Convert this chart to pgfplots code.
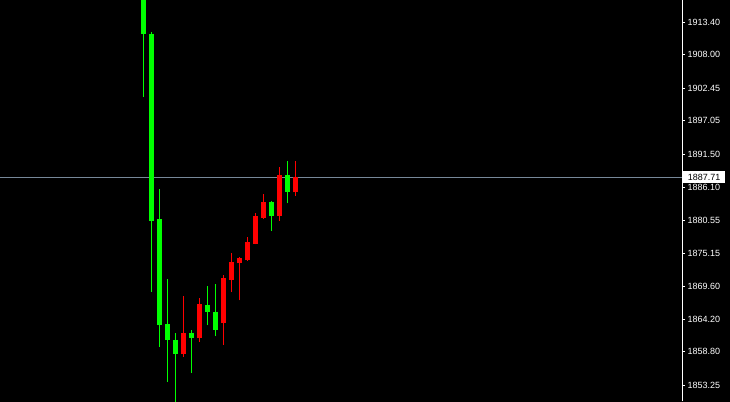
\documentclass[border=0pt]{standalone}
\usepackage{pgfplots}
\pgfplotsset{compat=1.18}
\usepackage{fontspec}
\setmainfont{Liberation Sans}
\definecolor{cgreen}{RGB}{0,255,0}
\definecolor{cred}{RGB}{255,0,0}
\definecolor{bidline}{RGB}{119,136,153}
\begin{document}
\begin{tikzpicture}
\fill[black] (0,0) rectangle (730bp,401bp);
\begin{axis}[
  at={(0,0)}, anchor=south west,
  scale only axis, width=682bp, height=401bp,
  xmin=-16.94, xmax=68.31, ymin=1850.55, ymax=1917.0,
  axis x line=none, axis y line*=right,
  axis line style={white, line width=1bp},
  xtick=\empty,
  ytick={1853.25,1858.80,1864.20,1869.60,1875.15,1880.55,1886.10,1891.50,1897.05,1902.45,1908.00,1913.40},
  yticklabels={1853.25,1858.80,1864.20,1869.60,1875.15,1880.55,1886.10,1891.50,1897.05,1902.45,1908.00,1913.40},
  ytick align=outside, major tick length=3bp,
  tick style={white, line width=0.8bp},
  yticklabel style={white, font=\fontsize{9bp}{10bp}\selectfont, inner sep=0pt, xshift=2.5bp},
  clip=true,
]
% bid line
\addplot[bidline, line width=1.2bp] coordinates {(-16.94,1887.71) (68.31,1887.71)};
% candles: wick (low-high), body (open-close)
\addplot[cgreen, line width=1.2bp] coordinates {(1,1900.97) (1,1920.5)};
\addplot[cgreen, line width=5bp] coordinates {(1,1919.5) (1,1911.41)};
\addplot[cgreen, line width=1.2bp] coordinates {(2,1868.66) (2,1911.70)};
\addplot[cgreen, line width=5bp] coordinates {(2,1911.53) (2,1880.43)};
\addplot[cgreen, line width=1.2bp] coordinates {(3,1859.66) (3,1885.68)};
\addplot[cgreen, line width=5bp] coordinates {(3,1880.71) (3,1863.26)};
\addplot[cgreen, line width=1.2bp] coordinates {(4,1853.75) (4,1870.93)};
\addplot[cgreen, line width=5bp] coordinates {(4,1863.31) (4,1860.71)};
\addplot[cgreen, line width=1.2bp] coordinates {(5,1850.30) (5,1861.82)};
\addplot[cgreen, line width=5bp] coordinates {(5,1860.82) (5,1858.39)};
\addplot[cred, line width=1.2bp] coordinates {(6,1857.89) (6,1867.95)};
\addplot[cred, line width=5bp] coordinates {(6,1858.39) (6,1861.98)};
\addplot[cgreen, line width=1.2bp] coordinates {(7,1855.24) (7,1862.32)};
\addplot[cgreen, line width=5bp] coordinates {(7,1861.98) (7,1861.04)};
\addplot[cred, line width=1.2bp] coordinates {(8,1860.38) (8,1867.62)};
\addplot[cred, line width=5bp] coordinates {(8,1861.04) (8,1866.67)};
\addplot[cgreen, line width=1.2bp] coordinates {(9,1863.20) (9,1869.77)};
\addplot[cgreen, line width=5bp] coordinates {(9,1866.62) (9,1865.35)};
\addplot[cgreen, line width=1.2bp] coordinates {(10,1861.37) (10,1869.94)};
\addplot[cgreen, line width=5bp] coordinates {(10,1865.46) (10,1862.36)};
\addplot[cred, line width=1.2bp] coordinates {(11,1859.99) (11,1871.43)};
\addplot[cred, line width=5bp] coordinates {(11,1863.52) (11,1870.98)};
\addplot[cred, line width=1.2bp] coordinates {(12,1868.66) (12,1875.12)};
\addplot[cred, line width=5bp] coordinates {(12,1870.76) (12,1873.63)};
\addplot[cred, line width=1.2bp] coordinates {(13,1867.29) (13,1874.46)};
\addplot[cred, line width=5bp] coordinates {(13,1873.47) (13,1874.30)};
\addplot[cred, line width=1.2bp] coordinates {(14,1873.91) (14,1877.89)};
\addplot[cred, line width=5bp] coordinates {(14,1874.08) (14,1876.95)};
\addplot[cred, line width=1.2bp] coordinates {(15,1876.57) (15,1881.75)};
\addplot[cred, line width=5bp] coordinates {(15,1876.68) (15,1881.25)};
\addplot[cred, line width=1.2bp] coordinates {(16,1880.76) (16,1884.90)};
\addplot[cred, line width=5bp] coordinates {(16,1880.92) (16,1883.57)};
\addplot[cgreen, line width=1.2bp] coordinates {(17,1878.77) (17,1883.74)};
\addplot[cgreen, line width=5bp] coordinates {(17,1883.57) (17,1881.37)};
\addplot[cred, line width=1.2bp] coordinates {(18,1880.54) (18,1889.49)};
\addplot[cred, line width=5bp] coordinates {(18,1881.37) (18,1888.16)};
\addplot[cgreen, line width=1.2bp] coordinates {(19,1883.41) (19,1890.48)};
\addplot[cgreen, line width=5bp] coordinates {(19,1888.16) (19,1885.23)};
\addplot[cred, line width=1.2bp] coordinates {(20,1884.68) (20,1890.32)};
\addplot[cred, line width=5bp] coordinates {(20,1885.23) (20,1887.71)};
\coordinate (bid) at (axis cs:68.31,1887.71);
\end{axis}
\node[fill=white, text=black, anchor=west, inner sep=0pt, minimum width=42bp, minimum height=11.5bp, font=\fontsize{9bp}{10bp}\selectfont] at ([xshift=1bp]bid) {1887.71};
\end{tikzpicture}
\end{document}
